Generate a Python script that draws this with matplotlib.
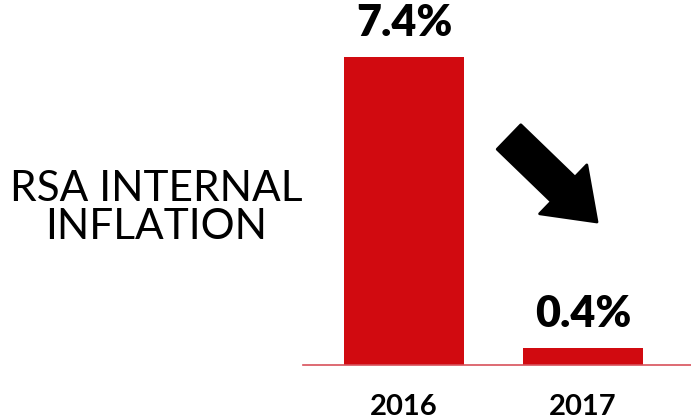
import matplotlib
matplotlib.use("Agg")
import matplotlib.pyplot as plt
from matplotlib.patches import FancyArrow

# internal inflation, two years
years = ["2016", "2017"]
inflation = [7.4, 0.4]
value_labels = ["7.4%", "0.4%"]
title_lines = "RSA INTERNAL\nINFLATION"

RED = "#d10a10"
W, H = 691, 419

fig = plt.figure(figsize=(W / 100, H / 100), dpi=100)
fig.patch.set_facecolor("white")

# axes box in pixel terms: left edge at the baseline start, bottom at the baseline
left, right, base = 303, 691, 365
ax = fig.add_axes([left / W, (H - base) / H, (right - left) / W, base / H])

xs = [0, 1]
ax.bar(xs, inflation, width=0.67, color=RED, zorder=2)
ax.set_xlim(-0.564, 1.603)
ax.set_ylim(0, 7.4 * 365 / 308)

for x, v, lab in zip(xs, inflation, value_labels):
    ax.annotate(lab, (x, v), xytext=(0, 10), textcoords="offset points",
                ha="center", va="bottom", fontsize=31, fontweight="heavy",
                family="Lato", color="black")

ax.set_xticks(xs)
ax.set_xticklabels(years, fontsize=21, fontweight="bold", family="Lato")
ax.tick_params(axis="x", length=0, pad=21)
ax.set_yticks([])
for s in ["top", "left", "right"]:
    ax.spines[s].set_visible(False)
ax.spines["bottom"].set_color("#d8505a")
ax.spines["bottom"].set_linewidth(1.2)

# downward trend arrow, laid out in inches so it keeps its shape
tail = (509 / 100, (H - 137) / 100)
tip = (597 / 100, (H - 222) / 100)
fig.patches.append(FancyArrow(tail[0], tail[1], tip[0] - tail[0], tip[1] - tail[1],
                              width=0.34, head_width=0.68, head_length=0.47,
                              length_includes_head=True, facecolor="black",
                              edgecolor="black", linewidth=2, joinstyle="round",
                              transform=fig.dpi_scale_trans, figure=fig, zorder=3))

fig.text(156 / W, 1 - 208 / H, title_lines, ha="center", va="center",
         fontsize=30.5, family="Lato", linespacing=1.02, color="black")

fig.savefig("out.png", dpi=100)
